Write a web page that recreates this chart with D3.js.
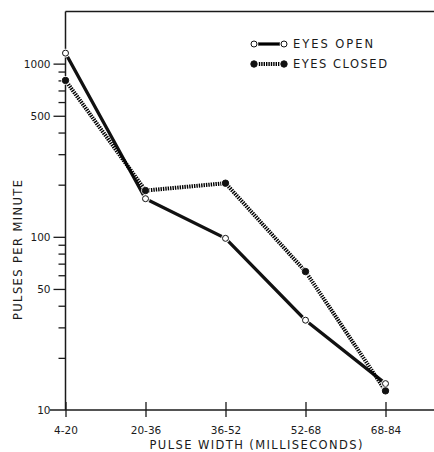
<!DOCTYPE html>
<html><head><meta charset="utf-8">
<script src="https://cdn.jsdelivr.net/npm/d3@7"></script>
<style>
html,body{margin:0;padding:0;background:#fff;}
svg text{font-family:"DejaVu Sans",sans-serif;fill:#1a1a1a;}
</style></head>
<body>
<svg id="chart" width="434" height="452"></svg>
<script>
const categories = ["4-20","20-36","36-52","52-68","68-84"];
const eyesOpen   = [1150, 166, 98, 33, 14.2];
const eyesClosed = [800, 185, 204, 63, 12.9];
const yTickLabels = [10, 50, 100, 500, 1000];
const yMinorTicks = [20,30,40,60,70,80,90,200,300,400,600,700,800,900];
const seriesNames = ["EYES OPEN","EYES CLOSED"];

const svg = d3.select("#chart");
const pLeft = 65.5, pRight = 434, pTop = 11.5, pBottom = 410;
const x = d3.scalePoint().domain(categories).range([pLeft, 385.5]).padding(0);
const y = d3.scaleLog().domain([10, 2000]).range([pBottom, pTop]);
const ink = "#1a1a1a";

// frame: left axis, top border, bottom axis
svg.append("line").attr("x1",pLeft).attr("x2",pLeft).attr("y1",pTop).attr("y2",pBottom)
  .attr("stroke",ink).attr("stroke-width",1.5);
svg.append("line").attr("x1",pLeft).attr("x2",pRight).attr("y1",pTop).attr("y2",pTop)
  .attr("stroke",ink).attr("stroke-width",1.5);
svg.append("line").attr("x1",50).attr("x2",pRight).attr("y1",pBottom).attr("y2",pBottom)
  .attr("stroke",ink).attr("stroke-width",1.5);

// y ticks
const yAxis = d3.axisLeft(y).tickValues(yTickLabels).tickSize(12).tickPadding(3)
  .tickFormat(d3.format("d"));
const gy = svg.append("g").attr("transform",`translate(${pLeft},0)`).call(yAxis);
gy.select(".domain").remove();
gy.selectAll(".tick line").attr("stroke",ink).attr("stroke-width",1.3);
gy.selectAll(".tick text").attr("font-size",10.5).attr("fill",ink);
gy.selectAll(".tick").filter(d=>d===10).select("line").remove();
const yMinor = d3.axisLeft(y).tickValues(yMinorTicks).tickSize(7).tickFormat("");
const gym = svg.append("g").attr("transform",`translate(${pLeft},0)`).call(yMinor);
gym.select(".domain").remove();
gym.selectAll(".tick line").attr("stroke",ink).attr("stroke-width",1.3);

// x ticks (crossing the axis)
const xAxis = d3.axisBottom(x).tickSize(7).tickPadding(10);
const gx = svg.append("g").attr("transform",`translate(0,${pBottom})`).call(xAxis);
gx.select(".domain").remove();
gx.selectAll(".tick line").attr("y1",-8).attr("stroke",ink).attr("stroke-width",1.3);
gx.selectAll(".tick text").attr("font-size",10.5).attr("fill",ink);

// axis titles
svg.append("text").attr("x",256).attr("y",449).attr("text-anchor","middle")
  .attr("font-size",11.5).attr("textLength",213).attr("lengthAdjust","spacing")
  .text("PULSE WIDTH (MILLISECONDS)");
svg.append("text").attr("transform","translate(22,250) rotate(-90)").attr("text-anchor","middle")
  .attr("font-size",11.5).attr("textLength",140).attr("lengthAdjust","spacing")
  .text("PULSES PER MINUTE");

// lines
const line = d3.line().x((d,i)=>x(categories[i])).y(d=>y(d));
svg.append("path").datum(eyesOpen).attr("d",line).attr("fill","none")
  .attr("stroke","#111").attr("stroke-width",3.2);
svg.append("path").datum(eyesClosed).attr("d",line).attr("fill","none")
  .attr("stroke","#000").attr("stroke-width",4).attr("stroke-dasharray","1.4,1");

// markers
function marker(sel, filled){
  sel.append("circle").attr("r",3.6).attr("fill","#fff").attr("stroke","#fff").attr("stroke-width",1.5);
  sel.append("circle").attr("r",filled?3.2:3).attr("fill",filled?"#111":"#fff")
    .attr("stroke","#111").attr("stroke-width",1);
}
svg.selectAll("g.mo").data(eyesOpen).join("g").attr("class","mo")
  .attr("transform",(d,i)=>`translate(${x(categories[i])},${y(d)})`).call(g=>marker(g,false));
svg.selectAll("g.mc").data(eyesClosed).join("g").attr("class","mc")
  .attr("transform",(d,i)=>`translate(${x(categories[i])},${y(d)})`).call(g=>marker(g,true));

// legend
const lg = svg.append("g");
[0,1].forEach(i=>{
  const yy = 44 + i*20;
  lg.append("line").attr("x1",254).attr("x2",284).attr("y1",yy).attr("y2",yy)
    .attr("stroke","#000").attr("stroke-width",i?4:3.2).attr("stroke-dasharray",i?"1.4,1":null);
  [254,284].forEach(cx=>{
    const g = lg.append("g").attr("transform",`translate(${cx},${yy})`);
    marker(g, i===1);
  });
  lg.append("text").attr("x",293).attr("y",yy+4.2).attr("font-size",11.5)
    .attr("textLength",i?94:80).attr("lengthAdjust","spacing").text(seriesNames[i]);
});
</script>
</body></html>
